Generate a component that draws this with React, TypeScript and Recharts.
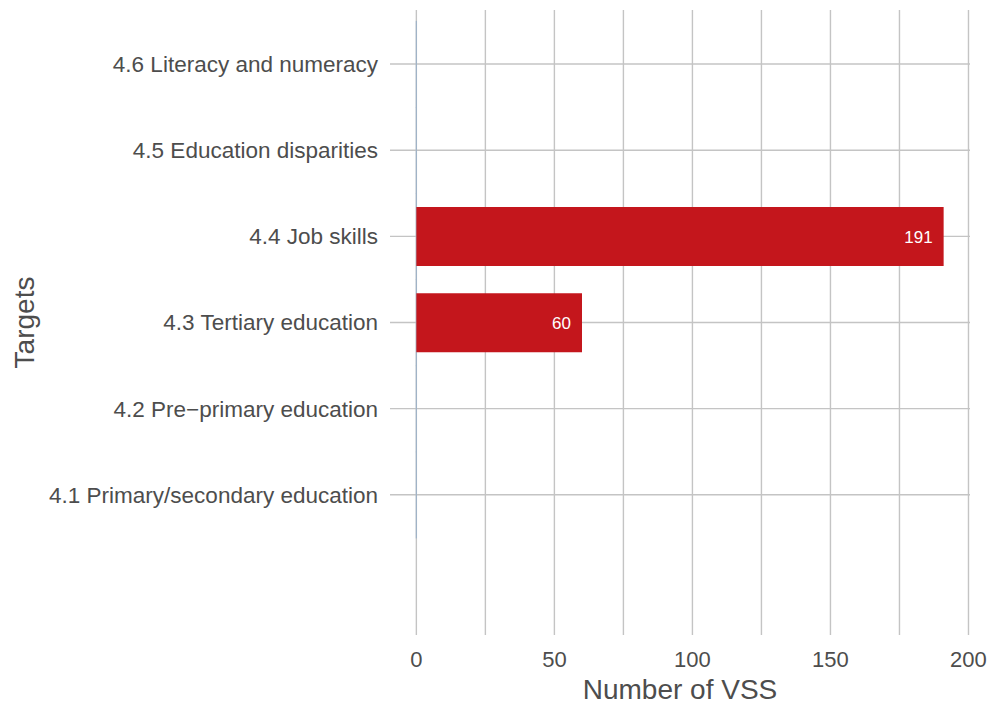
import {
  Bar,
  BarChart,
  CartesianGrid,
  Label,
  LabelList,
  XAxis,
  YAxis,
} from "recharts";

// SDG 4 targets, top to bottom. The last slot is an empty category that
// ggplot left at the bottom of the panel.
const TARGETS = [
  "4.6 Literacy and numeracy",
  "4.5 Education disparities",
  "4.4 Job skills",
  "4.3 Tertiary education",
  "4.2 Pre\u2212primary education",
  "4.1 Primary/secondary education",
  "",
];
const VSS_COUNTS = [0, 0, 191, 60, 0, 0, null];
const BASELINE = [0, 0, 0, 0, 0, 0, null];

const X_TICKS = [0, 25, 50, 75, 100, 125, 150, 175, 200];
const X_DOMAIN = [-9.55, 200.55];

const RED = "#c4161c";
const GRID = "#c4c4c4";
const TEXT = "#4d4d4d";
const FONT = "'Liberation Sans', Arial, sans-serif";

const GAP = 0.16;

const data = TARGETS.map((target, i) => ({
  target,
  count: VSS_COUNTS[i],
  base: BASELINE[i],
}));

// thin outline at zero that runs over the whole category band
function ZeroLine(props: any) {
  const { x, y, height, payload } = props;
  if (!payload || payload.base == null || height == null) return null;
  const extra = (height * GAP) / (1 - 2 * GAP);
  return (
    <rect
      x={x - 0.6}
      y={y - extra}
      width={1.2}
      height={height + 2 * extra}
      fill="#9fb3c8"
    />
  );
}

export default function App() {
  return (
    <div style={{ position: "absolute", left: 0, top: 0, fontFamily: FONT }}>
      <BarChart
        width={987}
        height={704}
        data={data}
        layout="vertical"
        barCategoryGap={`${GAP * 100}%`}
        margin={{ top: 10, right: 17, left: 0, bottom: 0 }}
      >
        <CartesianGrid stroke={GRID} strokeWidth={1.4} syncWithTicks />
        <XAxis
          type="number"
          domain={X_DOMAIN}
          ticks={X_TICKS}
          allowDataOverflow
          axisLine={false}
          tickLine={false}
          height={69}
          tickMargin={10}
          tick={{ fontSize: 22, fill: TEXT, fontFamily: FONT }}
          tickFormatter={(v: number) => (v % 50 === 0 ? String(v) : "")}
        >
          <Label
            value="Number of VSS"
            position="insideBottom"
            offset={5}
            style={{ fontSize: 28, fill: TEXT, fontFamily: FONT }}
          />
        </XAxis>
        <YAxis
          type="category"
          dataKey="target"
          ticks={TARGETS.slice(0, 6)}
          width={390}
          axisLine={false}
          tickLine={false}
          padding={{ top: 11, bottom: 11 }}
          tickMargin={6}
          tick={{ fontSize: 22.5, fill: TEXT, fontFamily: FONT }}
        >
          <Label
            value="Targets"
            angle={-90}
            position="insideLeft"
            offset={24}
            style={{ fontSize: 28, fill: TEXT, fontFamily: FONT, textAnchor: "middle" }}
          />
        </YAxis>
        <Bar
          dataKey="base"
          stackId="a"
          shape={ZeroLine}
          isAnimationActive={false}
        />
        <Bar dataKey="count" stackId="a" fill={RED} isAnimationActive={false}>
          <LabelList
            dataKey="count"
            position="insideRight"
            offset={11}
            fill="#ffffff"
            fontSize={17}
            fontFamily={FONT}
            formatter={(v: any) => (v ? String(v) : "")}
          />
        </Bar>
      </BarChart>
    </div>
  );
}
